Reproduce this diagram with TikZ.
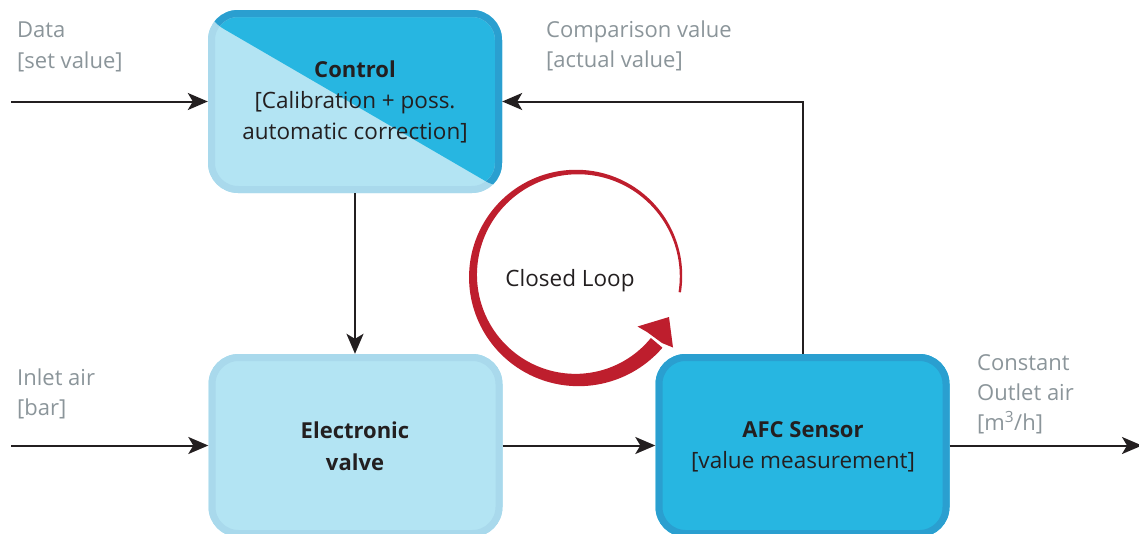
\documentclass[tikz,border=0pt]{standalone}
\usepackage{fontspec}
\setmainfont{Open Sans}
\usetikzlibrary{arrows.meta,calc}
\definecolor{lightfill}{HTML}{B3E4F3}
\definecolor{lightedge}{HTML}{A9D9EC}
\definecolor{darkfill}{HTML}{27B6E1}
\definecolor{darkedge}{HTML}{2A9FD0}
\definecolor{loopred}{HTML}{BE1E2D}
\definecolor{ink}{HTML}{231F20}
\definecolor{note}{HTML}{8B959A}
\begin{document}
\begin{tikzpicture}[x=1pt,y=-1pt,
  declare function={hw(\t)=1.2+6.3*((\t+9)/327)*sqrt((\t+9)/327);},
  boxshape/.style={rectangle, rounded corners=30pt, minimum width=294pt, minimum height=183pt, inner sep=0pt},
  edged/.style={path picture={\draw[#1, line width=14pt, rounded corners=30pt] (path picture bounding box.south west) rectangle (path picture bounding box.north east);}},
  conn/.style={draw=ink, line width=2pt, -{Stealth[length=20pt,width=17pt,inset=5pt]}},
  lbl/.style={text=note, font=\fontsize{22}{31}\selectfont, inner sep=0pt, anchor=base west},
  boxtxt/.style={text=ink, font=\fontsize{22.5}{31}\selectfont, inner sep=0pt, anchor=base},
  boxbold/.style={boxtxt, font=\fontsize{22}{31}\selectfont\bfseries},
]
\useasboundingbox (0,0) rectangle (1139,533);

% Control box (two-tone)
\node[boxshape, fill=lightfill, path picture={
    \coordinate (pp) at (path picture bounding box.north west);
    \fill[darkfill] ([shift={(-10pt,-3.95pt)}]pp) -- ([shift={(304pt,-186.5pt)}]pp) -- ([shift={(304pt,10pt)}]pp) -- ([shift={(-10pt,10pt)}]pp) -- cycle;
    \draw[lightedge, line width=14pt, rounded corners=30pt] (path picture bounding box.south west) rectangle (path picture bounding box.north east);
    \begin{scope}
      \clip ([shift={(-10pt,-3.95pt)}]pp) -- ([shift={(304pt,-186.5pt)}]pp) -- ([shift={(304pt,10pt)}]pp) -- ([shift={(-10pt,10pt)}]pp) -- cycle;
      \draw[darkedge, line width=14pt, rounded corners=30pt] (path picture bounding box.south west) rectangle (path picture bounding box.north east);
    \end{scope}
  }] (ctrl) at (355,101.5) {};

% Electronic valve
\node[boxshape, fill=lightfill, edged=lightedge] (valve) at (355.5,445.5) {};
% AFC sensor
\node[boxshape, fill=darkfill, edged=darkedge] (afc) at (802.5,445.5) {};

% Texts in boxes
\node[boxbold] (c1) at (355,77) {Control};
\node[boxtxt] (c2) at (355,108) {[Calibration + poss.};
\node[boxtxt] (c3) at (355,139) {automatic correction]};
\node[boxbold] (v1) at (355,438) {Electronic};
\node[boxbold] (v2) at (355,470) {valve};
\node[boxbold] (a1) at (803,437) {AFC Sensor};
\node[boxtxt] (a2) at (803,468) {[value measurement]};

% Outside labels
\node[lbl] (d1) at (17,37) {Data};
\node[lbl] (d2) at (17,68) {[set value]};
\node[lbl] (cv1) at (546,37) {Comparison value};
\node[lbl] (cv2) at (546,67) {[actual value]};
\node[lbl] (i1) at (17,385) {Inlet air};
\node[lbl] (i2) at (17,415) {[bar]};
\node[lbl] (o1) at (977,370) {Constant};
\node[lbl] (o2) at (977,400) {Outlet air};
\node[lbl] (o3) at (977,430) {[m\textsuperscript{3}/h]};

% Connectors
\coordinate (datain) at (11,101.5);
\coordinate (inletin) at (11,445.5);
\coordinate (outlet) at (1142,445.5);
\draw[conn] (datain) -- (ctrl.west);
\draw[conn] (inletin) -- (valve.west);
\draw[conn] (valve.east) -- (afc.west);
\draw[conn] (afc.east) -- (outlet);
\draw[conn] (ctrl.south) -- (ctrl.south |- valve.north);
\draw[conn] (afc.north) |- (ctrl.east);

% Closed loop arrow
\fill[loopred] plot[domain=-9:320, samples=150, variable=\t] ({577+(104+hw(\t))*cos(\t)}, {276-(104+hw(\t))*sin(\t)})
  -- plot[domain=320:-9, samples=150, variable=\t] ({577+(104-hw(\t))*cos(\t)}, {276-(104-hw(\t))*sin(\t)}) -- cycle;
\fill[loopred] (669,317) -- (637.5,326.5) -- (647,332) -- (662,343) -- (673,347.5) -- cycle;
\node[boxtxt] (loop) at (570,286) {Closed Loop};
\end{tikzpicture}
\end{document}
